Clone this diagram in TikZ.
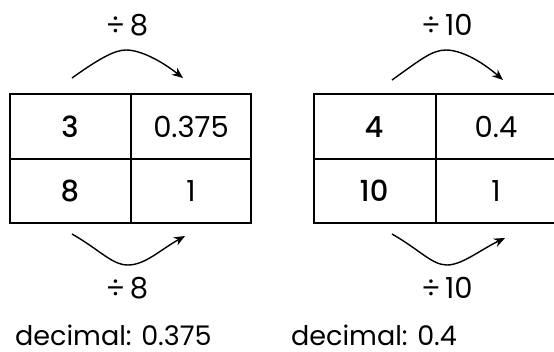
\documentclass[tikz,border=0pt]{standalone}
\usepackage{fontspec}
\setmainfont{Poppins}[BoldFont={Poppins Medium}]
\usetikzlibrary{arrows.meta}
\begin{document}
\begin{tikzpicture}[x=1pt,y=-1pt,
  cellline/.style={line width=2pt,line cap=rect},
  txt/.style={font=\fontsize{29}{32}\selectfont,inner sep=0pt,anchor=base},
  bold/.style={font=\fontsize{29}{32}\selectfont\bfseries,inner sep=0pt,anchor=base},
  dec/.style={font=\fontsize{27}{30}\selectfont,inner sep=0pt,anchor=base west},
  jump/.style={line width=1.4pt,-{Stealth[length=11pt,width=9pt]}}]
\useasboundingbox (0,0) rectangle (554,351);
% left table
\draw[cellline] (10,94) rectangle (251,223);
\draw[cellline] (10,158.5) -- (251,158.5);
\draw[cellline] (130.5,94) -- (130.5,223);
\node[bold] (a1) at (70,137) {3};
\node[txt] (a2) at (191,137) {0.375};
\node[bold] (a3) at (70,201) {8};
\node[txt] (a4) at (191,201) {1};
% right table
\draw[cellline] (565,94) -- (313.5,94) -- (313.5,223) -- (565,223);
\draw[cellline] (313.5,158.5) -- (565,158.5);
\draw[cellline] (435.5,94) -- (435.5,223);
\node[bold] (b1) at (374,137) {4};
\node[txt] (b2) at (496,137) {0.4};
\node[bold] (b3) at (374,201) {10};
\node[txt] (b4) at (496,201) {1};
% arrows
\coordinate (ls) at (72,78); \coordinate (le) at (183,78);
\draw[jump] (ls) .. controls (100,58) and (115,50) .. (126,50) .. controls (140,50) and (160,60) .. (le);
\coordinate (lbs) at (72,234); \coordinate (lbe) at (185,236);
\draw[jump] (lbs) .. controls (100,250) and (112,265) .. (128,265) .. controls (145,265) and (160,250) .. (lbe);
\coordinate (rs) at (392,80); \coordinate (re) at (503,80);
\draw[jump] (rs) .. controls (420,60) and (432,50) .. (446,50) .. controls (460,50) and (480,60) .. (re);
\coordinate (rbs) at (392,234); \coordinate (rbe) at (505,238);
\draw[jump] (rbs) .. controls (420,250) and (432,265) .. (447,265) .. controls (462,265) and (480,250) .. (rbe);
% labels
\node[txt] (l1) at (127,35) {÷\,8};
\node[txt] (l2) at (127,298) {÷\,8};
\node[txt] (l3) at (447,35) {÷\,10};
\node[txt] (l4) at (447,298) {÷\,10};
\node[dec] (d1) at (15,345) {decimal: 0.375};
\node[dec] (d2) at (291,345) {decimal: 0.4};
\end{tikzpicture}
\end{document}
